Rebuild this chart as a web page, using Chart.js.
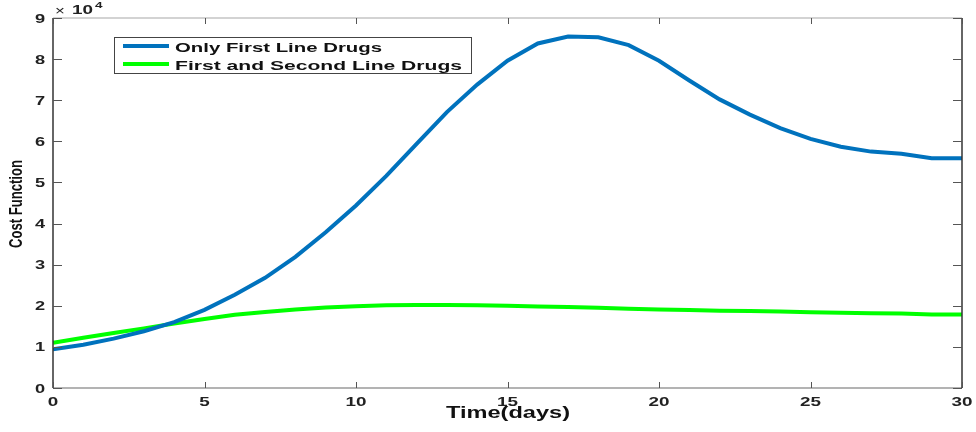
<!DOCTYPE html>
<html>
<head>
<meta charset="utf-8">
<script src="https://cdn.jsdelivr.net/npm/chart.js@4.4.0/dist/chart.umd.min.js"></script>
<style>
  html, body { margin: 0; padding: 0; background: #fff; }
  #wrap { width: 976px; height: 432px; }
</style>
</head>
<body>
<div id="wrap"><canvas id="costChart" width="976" height="432"></canvas></div>
<script>
// Days 0..30
const days = [0,1,2,3,4,5,6,7,8,9,10,11,12,13,14,15,16,17,18,19,20,21,22,23,24,25,26,27,28,29,30];

// Cost function values
const onlyFirstLine = [9400,10500,12000,13800,16000,19000,22700,26800,31900,37900,44400,51600,59400,67100,73800,79600,83800,85500,85300,83400,79600,74800,70200,66500,63200,60600,58700,57500,57000,55900,55900];
const firstAndSecond = [11000,12200,13400,14500,15700,16800,17800,18500,19100,19600,19900,20100,20200,20200,20100,20000,19800,19700,19500,19300,19100,19000,18800,18700,18600,18400,18300,18200,18100,17900,17900];

const seriesLabels = ["Only First Line Drugs", "First and Second Line Drugs"];
const seriesColors = ["#0072BD", "#00FF00"];
const yTicks = [0,10000,20000,30000,40000,50000,60000,70000,80000,90000];
const xTicks = [0,5,10,15,20,25,30];
const xTitle = "Time(days)";
const yTitle = "Cost Function";

const FONT = "'Liberation Sans', Arial, sans-serif";

// The reference texts look stretched sideways, so draw them with a horizontal scale
function drawText(ctx, text, x, y, font, sx, align) {
    ctx.save();
    ctx.font = font;
    ctx.textBaseline = 'middle';
    ctx.textAlign = 'left';
    const w = ctx.measureText(text).width * sx;
    let x0 = x;
    if (align === 'center') x0 = x - w / 2;
    if (align === 'right') x0 = x - w;
    ctx.translate(x0, y);
    ctx.scale(sx, 1);
    ctx.fillText(text, 0, 0);
    ctx.restore();
}

// same but scaled to a given width
function drawTextWidth(ctx, text, x, y, font, width, align) {
    ctx.save();
    ctx.font = font;
    const sx = width / ctx.measureText(text).width;
    ctx.restore();
    drawText(ctx, text, x, y, font, sx, align);
}

// Draws the MATLAB style box, inner ticks, labels and legend
const matlabBoxPlugin = {
    id: 'matlabBox',
    afterDraw: (chart) => {
        const {ctx, chartArea} = chart;
        const {left, right, top, bottom} = chartArea;
        const xs = chart.scales.x;
        const ys = chart.scales.y;
        ctx.save();

        // box
        ctx.lineWidth = 1.5;
        ctx.strokeStyle = '#c4c4c4';
        ctx.beginPath(); ctx.moveTo(left, top); ctx.lineTo(right, top); ctx.stroke();
        ctx.strokeStyle = '#9a9a9a';
        ctx.beginPath(); ctx.moveTo(left, bottom); ctx.lineTo(right, bottom); ctx.stroke();
        ctx.strokeStyle = '#333';
        ctx.beginPath(); ctx.moveTo(left, top); ctx.lineTo(left, bottom); ctx.stroke();
        ctx.beginPath(); ctx.moveTo(right, top); ctx.lineTo(right, bottom); ctx.stroke();

        // inner ticks
        ctx.lineWidth = 1;
        ctx.strokeStyle = '#555';
        xTicks.forEach(t => {
            const px = Math.round(xs.getPixelForValue(t)) + 0.5;
            ctx.beginPath(); ctx.moveTo(px, bottom); ctx.lineTo(px, bottom - 6); ctx.stroke();
            ctx.beginPath(); ctx.moveTo(px, top); ctx.lineTo(px, top + 6); ctx.stroke();
        });
        yTicks.forEach(t => {
            const py = Math.round(ys.getPixelForValue(t)) + 0.5;
            ctx.beginPath(); ctx.moveTo(left, py); ctx.lineTo(left + 9, py); ctx.stroke();
            ctx.beginPath(); ctx.moveTo(right, py); ctx.lineTo(right - 9, py); ctx.stroke();
        });

        // tick labels
        ctx.fillStyle = '#222';
        const tickFont = "bold 13px " + FONT;
        xTicks.forEach(t => {
            drawText(ctx, String(t), xs.getPixelForValue(t), bottom + 14, tickFont, 1.45, 'center');
        });
        yTicks.forEach(t => {
            drawText(ctx, String(t / 10000), 45, ys.getPixelForValue(t) + 1, tickFont, 1.4, 'right');
        });

        // axis titles
        ctx.fillStyle = '#111';
        drawTextWidth(ctx, xTitle, 508, 414, "bold 16px " + FONT, 124, 'center');
        ctx.save();
        ctx.translate(17, 204);
        ctx.rotate(-Math.PI / 2);
        drawTextWidth(ctx, yTitle, 0, 0, "bold 18px " + FONT, 88, 'center');
        ctx.restore();

        // exponent label
        ctx.fillStyle = '#222';
        drawText(ctx, '\u00d7', 60, 11, "13px " + FONT, 1.3, 'center');
        drawTextWidth(ctx, '10', 72, 11, "bold 12px " + FONT, 21, 'left');
        drawText(ctx, '4', 95, 6, "bold 9px " + FONT, 1.5, 'left');

        // legend
        const lx = 114, ly = 37, lw = 357, lh = 36;
        ctx.fillStyle = '#fff';
        ctx.fillRect(lx, ly, lw, lh);
        ctx.strokeStyle = '#444';
        ctx.lineWidth = 1;
        ctx.strokeRect(lx + 0.5, ly + 0.5, lw, lh);
        const legendWidths = [207, 287];
        chart.data.datasets.forEach((ds, i) => {
            const yy = ly + 9 + i * 18;
            ctx.strokeStyle = ds.borderColor;
            ctx.lineWidth = 4;
            ctx.beginPath(); ctx.moveTo(123, yy); ctx.lineTo(169, yy); ctx.stroke();
            ctx.fillStyle = '#111';
            drawTextWidth(ctx, ds.label, 175, yy + 2, "bold 13px " + FONT, legendWidths[i], 'left');
        });
        ctx.restore();
    }
};

const graphData = {
    datasets: [
        {
            label: seriesLabels[0],
            data: days.map((d, i) => ({x: d, y: onlyFirstLine[i]})),
            borderColor: seriesColors[0],
            borderWidth: 4,
            pointRadius: 0,
            tension: 0,
            fill: false
        },
        {
            label: seriesLabels[1],
            data: days.map((d, i) => ({x: d, y: firstAndSecond[i]})),
            borderColor: seriesColors[1],
            borderWidth: 4,
            pointRadius: 0,
            tension: 0,
            fill: false
        }
    ]
};

new Chart(document.getElementById('costChart'), {
    type: 'line',
    data: graphData,
    options: {
        responsive: false,
        animation: false,
        layout: { padding: { left: 0, top: 18, right: 14, bottom: 0 } },
        plugins: {
            legend: { display: false },
            tooltip: { enabled: false }
        },
        scales: {
            x: {
                type: 'linear',
                min: 0,
                max: 30,
                afterBuildTicks: (scale) => { scale.ticks = xTicks.map(v => ({value: v})); },
                afterFit: (scale) => { scale.height = 44; },
                grid: { display: false, drawTicks: false },
                border: { display: false },
                ticks: { display: false }
            },
            y: {
                min: 0,
                max: 90000,
                afterBuildTicks: (scale) => { scale.ticks = yTicks.map(v => ({value: v})); },
                afterFit: (scale) => { scale.width = 53; },
                grid: { display: false, drawTicks: false },
                border: { display: false },
                ticks: { display: false }
            }
        }
    },
    plugins: [matlabBoxPlugin]
});
</script>
</body>
</html>
